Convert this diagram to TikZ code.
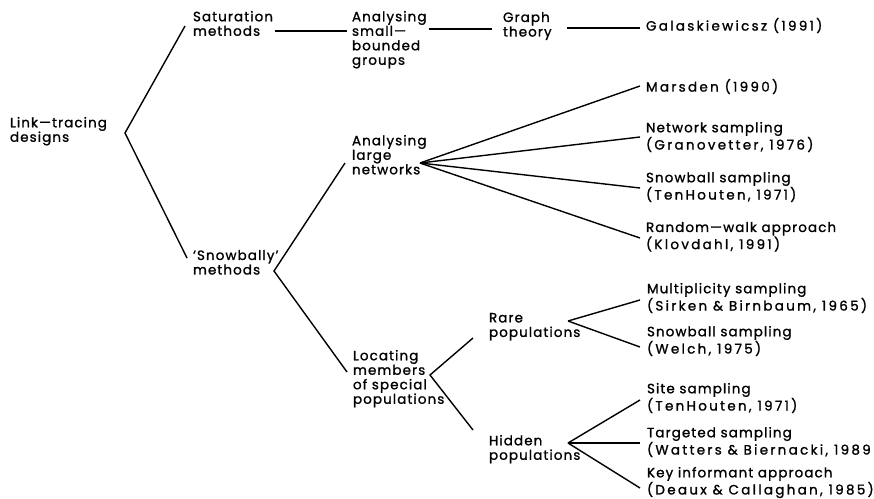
\documentclass[tikz,border=0pt]{standalone}
\usepackage{fontspec}
\setmainfont{Poppins}[LetterSpace=8.0, FakeBold=1.2]
\newcommand\citeline[1]{{\addfontfeature{LetterSpace=17.0}#1}}
\begin{document}
\begin{tikzpicture}[x=1pt,y=1pt,
  lbl/.style={anchor=north west, inner sep=0pt, outer sep=0pt, align=left,
    font=\fontsize{13.5}{14.5}\selectfont},
  conn/.style={line width=1.4pt}]
\useasboundingbox (0,0) rectangle (874,-498);
% text nodes
\node[lbl] (root)  at (10,-117)  {Link—tracing\\designs};
\node[lbl] (sat)   at (193,-11)  {Saturation\\methods};
\node[lbl] (small) at (352,-11)  {Analysing\\small—\\bounded\\groups};
\node[lbl] (graph) at (503,-12)  {Graph\\theory};
\node[lbl] (gal)   at (646,-18)  {\citeline{Galaskiewicsz (1991)}};
\node[lbl] (snow)  at (193,-250) {`Snowbally'\\methods};
\node[lbl] (large) at (352,-135) {Analysing\\large\\networks};
\node[lbl] (loc)   at (353,-350) {Locating\\members\\of special\\populations};
\node[lbl] (rare)  at (489,-313) {Rare\\populations};
\node[lbl] (hid)   at (489,-435) {Hidden\\populations};
\node[lbl] (mars)  at (646,-79)  {\citeline{Marsden (1990)}};
\node[lbl] (netw)  at (646,-122) {Network sampling\\\citeline{(Granovetter, 1976)}};
\node[lbl] (snt)   at (646,-172) {Snowball sampling\\\citeline{(TenHouten, 1971)}};
\node[lbl] (rw)    at (646,-222) {Random—walk approach\\\citeline{(Klovdahl, 1991)}};
\node[lbl] (mult)  at (647,-283) {Multiplicity sampling\\\citeline{(Sirken \& Birnbaum, 1965)}};
\node[lbl] (snw)   at (647,-326) {Snowball sampling\\\citeline{(Welch, 1975)}};
\node[lbl] (site)  at (647,-383) {Site sampling\\\citeline{(TenHouten, 1971)}};
\node[lbl] (targ)  at (647,-427) {Targeted sampling\\\citeline{(Watters \& Biernacki, 1989}};
\node[lbl] (key)   at (647,-467) {Key informant approach\\\citeline{(Deaux \& Callaghan, 1985)}};
% branching points
\coordinate (v0) at (125,-133);
\coordinate (v1) at (274,-271);
\coordinate (v2) at (420,-163);
\coordinate (v3) at (430,-375);
\coordinate (v4) at (568,-321);
\coordinate (v5) at (568,-443);
% connectors
\draw[conn] ([shift={(-8,-15)}]sat.north west) -- (v0) -- ([shift={(-6,-8)}]snow.north west);
\draw[conn] ([shift={(2,-20)}]sat.north east) -- ([shift={(-5,-20)}]small.north west);
\draw[conn] ([shift={(2,-18)}]small.north east) -- ([shift={(-11,-17)}]graph.north west);
\draw[conn] ([shift={(15,-16)}]graph.north east) -- ([shift={(-6,-10)}]gal.north west);
\draw[conn] ([shift={(-7,-28)}]large.north west) -- (v1) -- ([shift={(-6,-22)}]loc.north west);
\draw[conn] (v2) -- ([shift={(-6,-7)}]mars.north west);
\draw[conn] (v2) -- ([shift={(-6,-15)}]netw.north west);
\draw[conn] (v2) -- ([shift={(-6,-16)}]snt.north west);
\draw[conn] (v2) -- ([shift={(-6,-16)}]rw.north west);
\draw[conn] ([shift={(-16,-25)}]rare.north west) -- (v3) -- ([shift={(-16,5)}]hid.north west);
\draw[conn] (v4) -- ([shift={(-7,-17)}]mult.north west);
\draw[conn] (v4) -- ([shift={(-7,-21)}]snw.north west);
\draw[conn] (v5) -- ([shift={(-7,-17)}]site.north west);
\draw[conn] (v5) -- ([shift={(-7,-16)}]targ.north west);
\draw[conn] (v5) -- ([shift={(-7,-21)}]key.north west);
\end{tikzpicture}
\end{document}
